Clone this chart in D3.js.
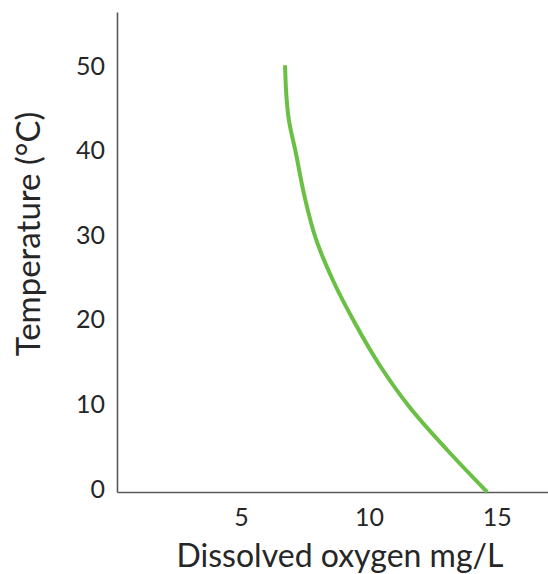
<!DOCTYPE html>
<html>
<head>
<meta charset="utf-8">
<script src="https://cdn.jsdelivr.net/npm/d3@7"></script>
<style>
  body { margin: 0; background: #fff; }
  text { font-family: Lato, "Open Sans", sans-serif; fill: #262626; }
</style>
</head>
<body>
<div id="chart"></div>
<script>
// Temperature (°C) and dissolved oxygen (mg/L)
var temperature = [0, 5, 10, 15, 20, 25, 30, 35, 40, 44, 47, 50.5];
var oxygen = [14.62, 13.05, 11.6, 10.42, 9.45, 8.6, 7.92, 7.48, 7.15, 6.87, 6.77, 6.72];
var xTicks = [5, 10, 15];
var yTicks = [0, 10, 20, 30, 40, 50];

var width = 548, height = 574;

var svg = d3.select("#chart").append("svg")
    .attr("width", width)
    .attr("height", height);

var x = d3.scaleLinear().domain([0.15, 17]).range([117, 548]);
var y = d3.scaleLinear().domain([0, 56.8]).range([492, 12]);

// x axis
var gx = svg.append("g")
    .attr("transform", "translate(0," + y(0) + ")")
    .call(d3.axisBottom(x).tickValues(xTicks).tickSize(0).tickSizeOuter(0));
gx.select(".domain").attr("stroke", "#595959").attr("stroke-width", 1.6);
gx.selectAll("text")
    .attr("dy", null)
    .attr("y", 34)
    .style("font-size", "25px");

// y axis
var gy = svg.append("g")
    .attr("transform", "translate(" + x.range()[0] + ",0)")
    .call(d3.axisLeft(y).tickValues(yTicks).tickSize(0).tickSizeOuter(0).tickPadding(12));
gy.select(".domain").attr("stroke", "#595959").attr("stroke-width", 1.6);
gy.selectAll("text")
    .attr("dy", null)
    .attr("y", 5)
    .style("font-size", "25px");

// axis titles
svg.append("text")
    .attr("x", 340)
    .attr("y", 567)
    .attr("text-anchor", "middle")
    .style("font-size", "32px")
    .text("Dissolved oxygen mg/L");

svg.append("text")
    .attr("transform", "translate(40,234) rotate(-90)")
    .attr("text-anchor", "middle")
    .style("font-size", "33px")
    .text("Temperature (\u00B0C)");

// curve
var points = temperature.map(function(t, i) { return { t: t, o: oxygen[i] }; });
var line = d3.line()
    .x(function(d) { return x(d.o); })
    .y(function(d) { return y(d.t); })
    .curve(d3.curveCatmullRom.alpha(0.5));

svg.append("path")
    .datum(points)
    .attr("fill", "none")
    .attr("stroke", "#6abf45")
    .attr("stroke-width", 4)
    .attr("d", line);
</script>
</body>
</html>
